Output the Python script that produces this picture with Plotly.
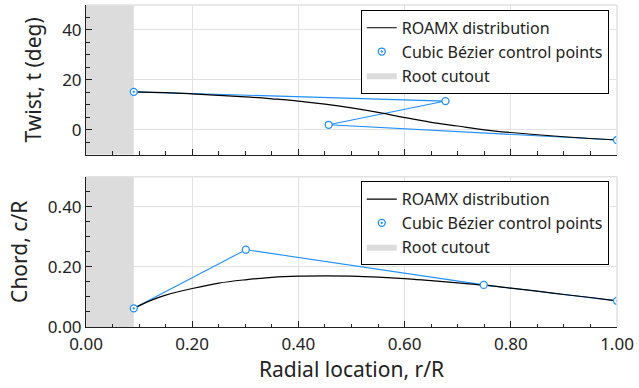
import plotly.graph_objects as go

# Spanwise twist distribution (deg) along r/R
r_twist = [0.09, 0.15, 0.20, 0.25, 0.30, 0.35, 0.40, 0.45, 0.50, 0.55,
           0.60, 0.65, 0.70, 0.75, 0.80, 0.85, 0.90, 0.95, 1.00]
twist = [15.2, 14.9, 14.4, 13.8, 13.2, 12.4, 11.5, 10.3, 8.8, 7.0,
         4.9, 3.0, 1.5, 0.0, -1.1, -2.0, -2.8, -3.5, -4.1]

# Spanwise chord distribution (c/R) along r/R
r_chord = [0.09, 0.12, 0.15, 0.20, 0.25, 0.30, 0.35, 0.40, 0.45, 0.50,
           0.55, 0.60, 0.65, 0.70, 0.75, 0.80, 0.85, 0.90, 0.95, 1.00]
chord = [0.062, 0.087, 0.106, 0.128, 0.146, 0.157, 0.165, 0.169, 0.170, 0.169,
         0.166, 0.161, 0.154, 0.147, 0.139, 0.129, 0.119, 0.108, 0.098, 0.087]

# Cubic Bezier control polygons
r_ctrl_twist = [0.09, 0.677, 0.457, 1.0]
twist_ctrl = [15.2, 11.5, 2.0, -4.1]
r_ctrl_chord = [0.09, 0.301, 0.749, 1.0]
chord_ctrl = [0.062, 0.257, 0.140, 0.087]

root_cutout = 0.09
r_range = [0.0, 1.0]
twist_range = [-10, 50]
chord_range = [0.0, 0.5]

BLUE = "#1E8FFF"
GREY = "#DCDCDC"
GRID = "#E2E2E2"
INK = "#222222"
FONT = "Noto Sans"

ctrl_symbols = ["circle-dot", "circle", "circle", "circle-dot"]

fig = go.Figure()


def add_panel(xa, ya, leg, r_c, v_c, r_p, v_p, v_range):
    # root cutout patch spanning the full vertical range
    fig.add_trace(go.Scatter(
        x=[r_range[0], root_cutout, root_cutout, r_range[0], r_range[0]],
        y=[v_range[0], v_range[0], v_range[1], v_range[1], v_range[0]],
        mode="lines", fill="toself", fillcolor=GREY, line=dict(width=0, color=GREY),
        name="Root cutout", legend=leg, legendrank=3, xaxis=xa, yaxis=ya,
        hoverinfo="skip"))
    # control polygon
    fig.add_trace(go.Scatter(
        x=r_p, y=v_p, mode="lines", line=dict(color=BLUE, width=1.1),
        showlegend=False, xaxis=xa, yaxis=ya))
    # distribution curve
    fig.add_trace(go.Scatter(
        x=r_c, y=v_c, mode="lines", line=dict(color="black", width=1.2, shape="spline"),
        name="ROAMX distribution", legend=leg, legendrank=1, xaxis=xa, yaxis=ya))
    # control points
    fig.add_trace(go.Scatter(
        x=r_p, y=v_p, mode="markers",
        marker=dict(symbol=ctrl_symbols, size=7, color="white",
                    line=dict(color=BLUE, width=1.3)),
        name="Cubic Bézier control points", legend=leg, legendrank=2,
        xaxis=xa, yaxis=ya))


add_panel("x", "y", "legend", r_twist, twist, r_ctrl_twist, twist_ctrl, twist_range)
add_panel("x2", "y2", "legend2", r_chord, chord, r_ctrl_chord, chord_ctrl, chord_range)

axis_common = dict(
    showline=True, linecolor=INK, linewidth=1, mirror=False,
    ticks="inside", ticklen=6, tickwidth=1, tickcolor=INK,
    showgrid=True, gridcolor=GRID, gridwidth=1, zeroline=False,
    tickfont=dict(family=FONT, size=17, color=INK), ticklabeloverflow="allow",
)
title_font = dict(family=FONT, size=21, color=INK)
legend_common = dict(
    xanchor="right", yanchor="top", bgcolor="white", bordercolor="black",
    borderwidth=1, font=dict(family=FONT, size=16, color=INK),
    tracegroupgap=0, itemwidth=30,
)

fig.update_layout(
    width=639, height=388,
    margin=dict(l=86, r=17, t=5, b=61),
    paper_bgcolor="white", plot_bgcolor="white",
    font=dict(family=FONT, color=INK),
    xaxis=dict(axis_common, domain=[0, 1], anchor="y", range=r_range,
               tick0=0, dtick=0.2, showticklabels=False, matches="x2",
               minor=dict(dtick=0.05, ticks="inside", ticklen=3.5,
                          tickcolor=INK, tickwidth=1, showgrid=False)),
    xaxis2=dict(axis_common, domain=[0, 1], anchor="y2", range=r_range,
                tick0=0, dtick=0.2, tickformat=".2f", ticklabelstandoff=2,
                minor=dict(dtick=0.05, ticks="inside", ticklen=3.5,
                           tickcolor=INK, tickwidth=1, showgrid=False),
                title=dict(text="Radial location, r/R", standoff=5, font=title_font)),
    yaxis=dict(axis_common, domain=[0.535, 1], anchor="x", range=twist_range,
               tick0=0, dtick=20,
               minor=dict(dtick=5, ticks="inside", ticklen=4,
                          tickcolor=INK, tickwidth=1, showgrid=False),
               title=dict(text="Twist, t (deg)", standoff=14, font=title_font)),
    yaxis2=dict(axis_common, domain=[0, 0.467], anchor="x2", range=chord_range,
                tick0=0, dtick=0.2, tickformat=".2f",
                minor=dict(dtick=0.05, ticks="inside", ticklen=4,
                           tickcolor=INK, tickwidth=1, showgrid=False),
                title=dict(text="Chord, c/R", standoff=14, font=title_font)),
    legend=dict(legend_common, x=0.9845, y=0.985),
    legend2=dict(legend_common, x=0.9845, y=0.453),
    showlegend=True,
)

# light frame on the top and right edges of each panel
for xr, yr in (("x domain", "y domain"), ("x2 domain", "y2 domain")):
    fig.add_shape(type="line", xref=xr, yref=yr, x0=0, x1=1, y0=1, y1=1,
                  line=dict(color=GRID, width=1.5), layer="above")
    fig.add_shape(type="line", xref=xr, yref=yr, x0=1, x1=1, y0=0, y1=1,
                  line=dict(color=GRID, width=1.5), layer="above")

fig.write_html("out.html")
